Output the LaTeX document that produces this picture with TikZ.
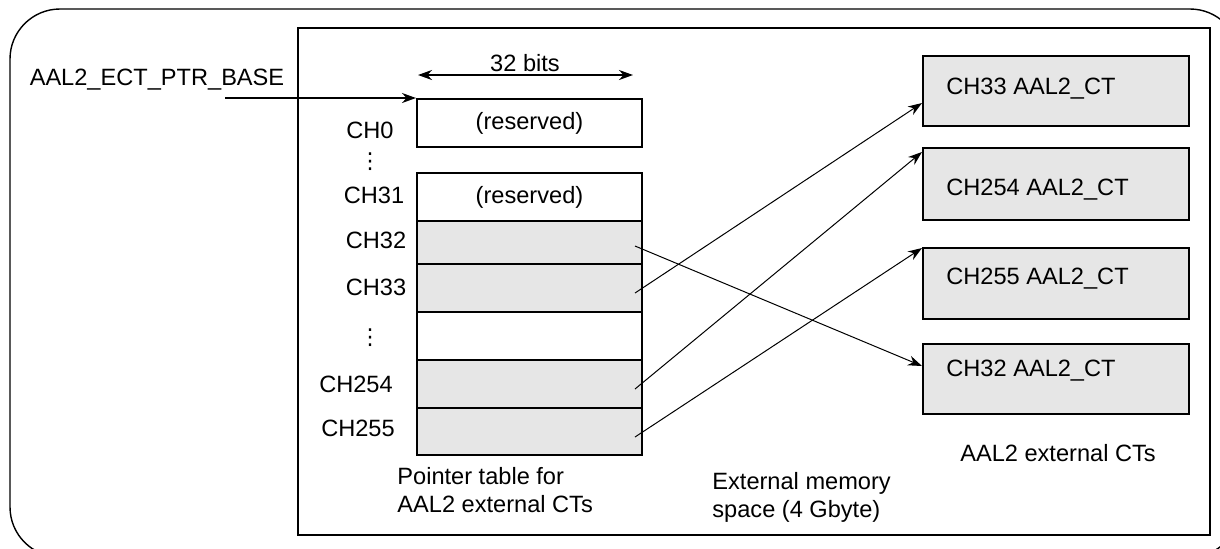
\documentclass[tikz,border=0pt]{standalone}
\usepackage{fontspec}
\setmainfont{Liberation Sans}
\newfontfamily\dejavu{DejaVu Sans}
\usetikzlibrary{arrows.meta}
\definecolor{cellgray}{RGB}{230,230,230}
\begin{document}
\begin{tikzpicture}[x=0.5pt,y=-0.5pt,
  font=\fontsize{11.8}{14}\selectfont,
  cell/.style={draw, line width=1pt, minimum width=112.5pt, inner sep=0pt, anchor=north west},
  grayc/.style={cell, fill=cellgray},
  ctbox/.style={draw, line width=1pt, fill=cellgray, minimum width=133pt, inner sep=0pt, anchor=north west},
  lbl/.style={inner sep=0pt},
  vdotsnode/.style={inner sep=0pt, font=\dejavu\fontsize{11}{12}\selectfont},
  ptr/.style={line width=0.5pt, -{Stealth[length=7pt,width=5pt]}},
  thick arrow/.style={line width=1pt, -{Stealth[length=7pt,width=5pt]}},
  frame/.style={draw, line width=1pt}]
\useasboundingbox (0,0) rectangle (1220,548);
\begin{scope}
\clip (0,0) rectangle (1220,548);
\draw[line width=0.7pt, rounded corners=25pt] (10,9) rectangle (1240,557);
\end{scope}
% inner frame
\draw[frame] (298,28) rectangle (1210,535);
% pointer table
\node[cell, minimum height=24pt] (c0) at (416,98) {(reserved)};
\node[cell, minimum height=24pt] (c31) at (416,172) {(reserved)};
\node[grayc, minimum height=21.5pt] (c32) at (416,220) {};
\node[grayc, minimum height=24pt] (c33) at (416,263) {};
\node[cell, minimum height=24pt] (cb) at (416,311) {};
\node[grayc, minimum height=24pt] (c254) at (416,359) {};
\node[grayc, minimum height=23.5pt] (c255) at (416,407) {};
% labels
\node[lbl] (l0) at (370,130) {CH0};
\node[vdotsnode] (d1) at (370,162) {⋮};
\node[lbl] (l31) at (374,195) {CH31};
\node[lbl] (l32) at (376,240) {CH32};
\node[lbl] (l33) at (376,287) {CH33};
\node[vdotsnode] (d2) at (370,338) {⋮};
\node[lbl] (l254) at (356,384) {CH254};
\node[lbl] (l255) at (358,428) {CH255};
% base pointer
\node[lbl] (base) at (157,80) {AAL2\_ECT\_PTR\_BASE};
\coordinate (bstart) at (225,98);
\draw[thick arrow] (bstart) -- (c0.north west);
% 32 bits
\node[lbl] (bits) at (525,63) {32 bits};
\coordinate (bl) at (418,75);
\coordinate (br) at (633,75);
\draw[line width=1pt, {Stealth[length=7pt,width=5pt]}-{Stealth[length=7pt,width=5pt]}] (bl) -- (br);
% CT boxes
\node[ctbox, minimum height=35pt] (b33) at (922,55) {};
\node[ctbox, minimum height=36pt] (b254) at (922,147) {};
\node[ctbox, minimum height=35.5pt] (b255) at (922,247) {};
\node[ctbox, minimum height=35pt] (b32) at (922,343) {};
\node[lbl, anchor=west] (t33) at (946,89) {CH33 AAL2\_CT};
\node[lbl, anchor=west] (t254) at (946,190) {CH254 AAL2\_CT};
\node[lbl, anchor=west] (t255) at (946,279) {CH255 AAL2\_CT};
\node[lbl, anchor=west] (t32) at (946,371) {CH32 AAL2\_CT};
% pointers
\draw[ptr] ([shift={(-4pt,-1.75pt)}]c32.east) -- ([yshift=-11.5pt]b32.north west);
\draw[ptr] ([shift={(-4pt,-2.5pt)}]c33.east) -- ([yshift=-24pt]b33.north west);
\draw[ptr] ([shift={(-4pt,-2.5pt)}]c254.east) -- ([yshift=-2.5pt]b254.north west);
\draw[ptr] ([shift={(-4pt,-2.75pt)}]c255.east) -- ([yshift=-0.5pt]b255.north west);
% captions
\node[lbl, align=left, anchor=north west] (ptcap) at (397,467) {Pointer table for\\AAL2 external CTs};
\node[lbl] (ctcap) at (1058,453) {AAL2 external CTs};
\node[lbl, align=left, anchor=north west] (memcap) at (712,472) {External memory\\space (4 Gbyte)};
\end{tikzpicture}
\end{document}
